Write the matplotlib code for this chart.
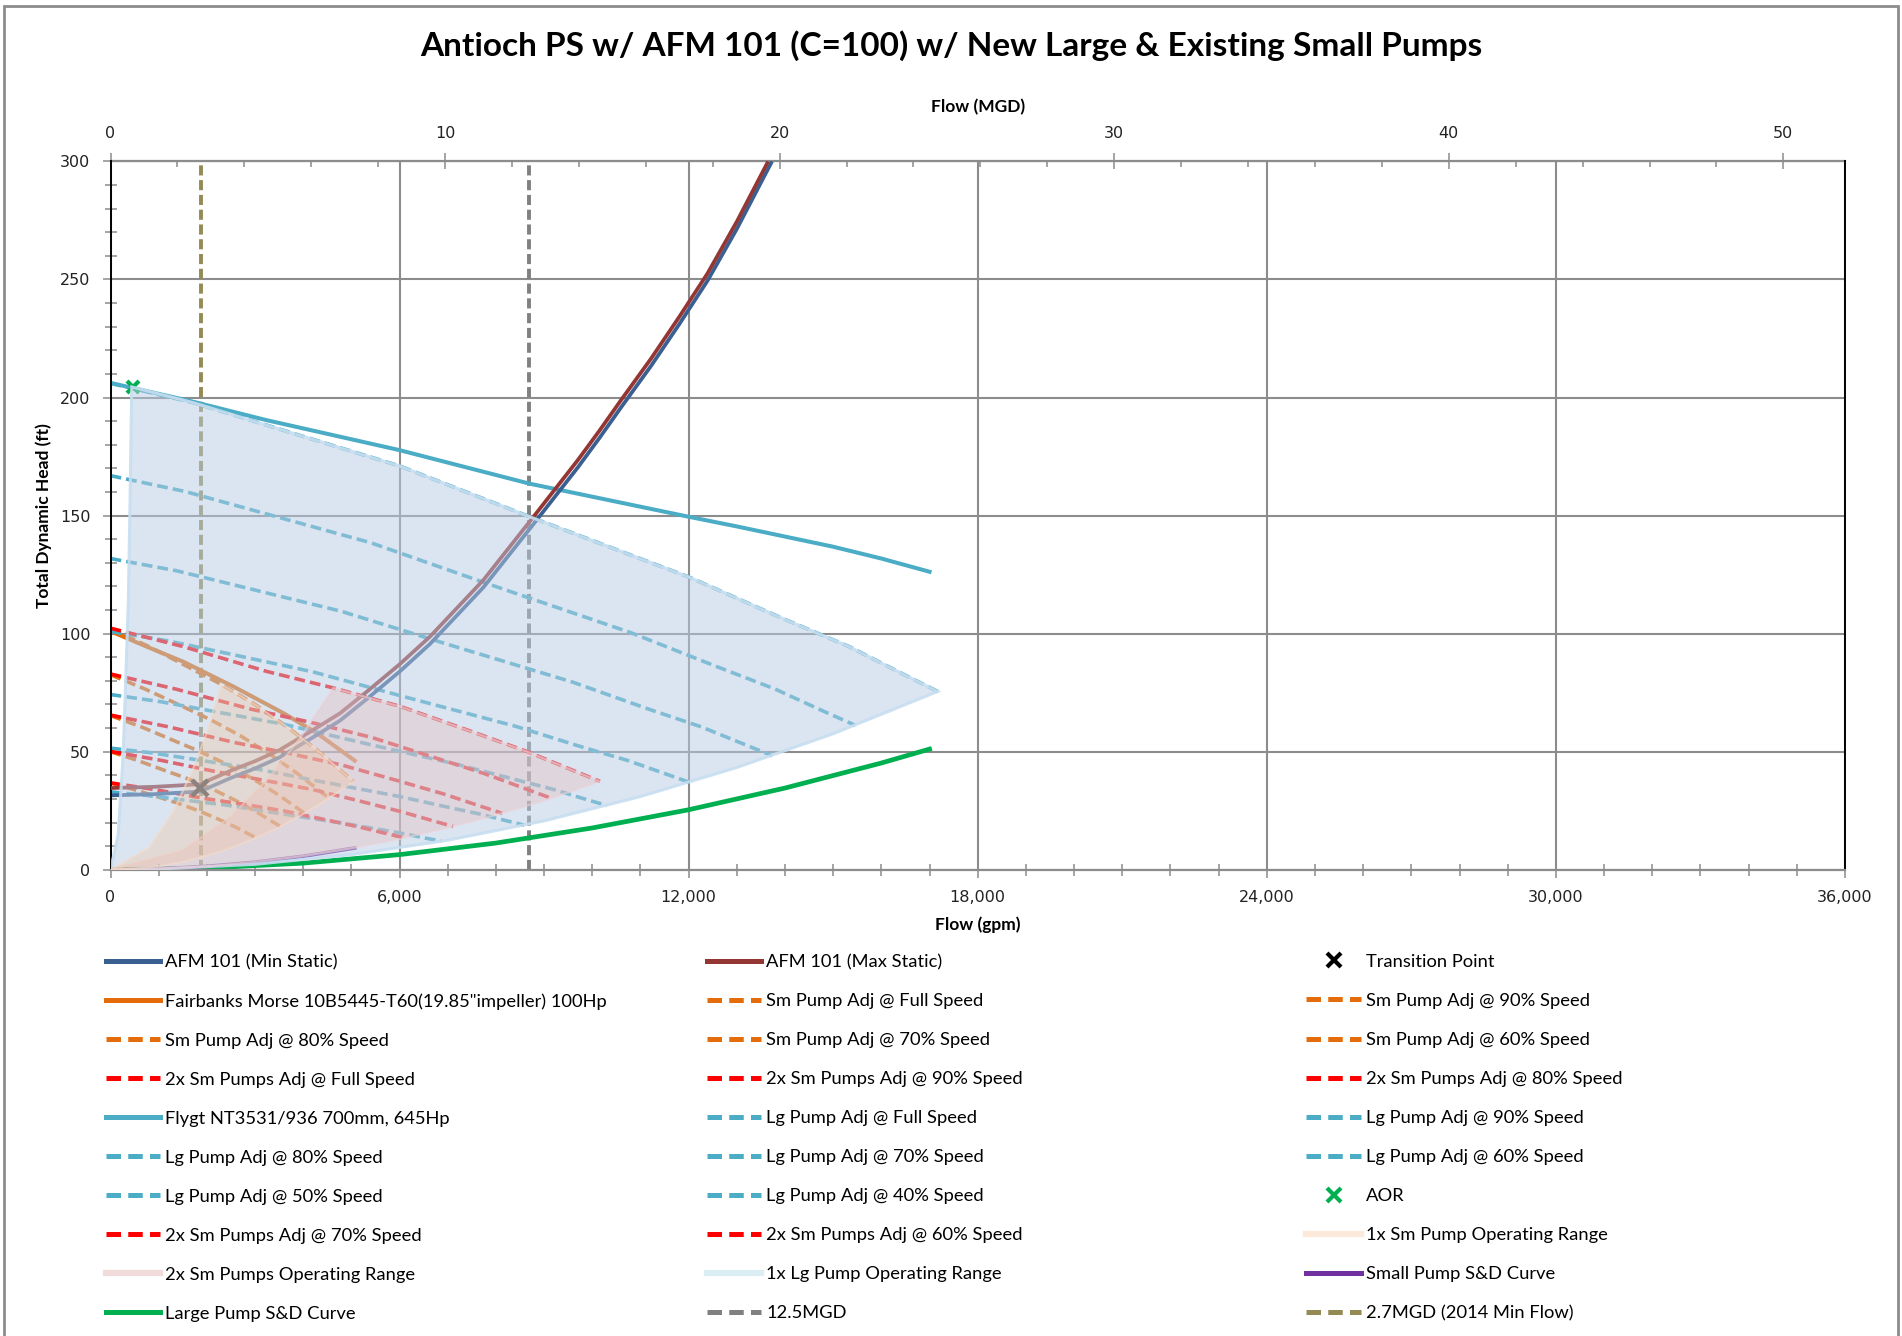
import matplotlib
matplotlib.use("Agg")
import matplotlib.pyplot as plt
from matplotlib.lines import Line2D
from matplotlib.patches import Rectangle
from matplotlib.ticker import MultipleLocator, FixedLocator, FuncFormatter

plt.rcParams['font.family'] = ['Lato', 'DejaVu Sans']

GPM_PER_MGD = 694.44

# ---------------- data (flow in gpm, head in ft) ----------------
# AFM 101 system curves
sys_max_q = [0, 900, 1850, 2500, 3000, 3500, 4140, 4760, 5320, 6000, 6630, 7740,
             8780, 9700, 10150, 10600, 11220, 11800, 12390, 13000, 13650]
sys_max_h = [34.6, 35.1, 36.2, 42.0, 46.0, 50.6, 58.4, 66.2, 75.4, 87.0, 98.7, 122.7,
             149.5, 173.5, 186.0, 199.0, 216.5, 234.0, 252.5, 274.5, 300.0]
sys_min_q = [0, 900, 1850, 2500, 3000, 3500, 4140, 4760, 5320, 6000, 6630, 7740,
             8780, 9700, 10150, 10600, 11220, 11800, 12390, 13000, 13650, 13730]
sys_min_h = [31.5, 32.0, 33.1, 38.9, 42.9, 47.5, 55.3, 63.1, 72.3, 83.9, 95.6, 119.6,
             146.4, 170.4, 182.9, 195.9, 213.4, 230.9, 249.4, 271.4, 296.9, 300.0]

transition_q = [1857]
transition_h = [34.7]
aor_q = [470]
aor_h = [204.5]

# Existing small pump (Fairbanks Morse)
fm_q = [0, 750, 1510, 2550, 3590, 4280, 5070]
fm_h = [101.0, 94.5, 88.1, 77.6, 66.3, 57.9, 46.2]

sm_full_q = [0, 800, 1600, 2300, 3000, 3700, 4300, 5040]
sm_full_h = [102.0, 94.5, 86.0, 78.5, 70.0, 60.0, 50.5, 37.4]
sm_90_q = [0, 720, 1440, 2070, 2700, 3330, 3870, 4536]
sm_90_h = [82.6, 76.5, 69.7, 63.6, 56.7, 48.6, 40.9, 30.3]
sm_80_q = [0, 640, 1280, 1840, 2400, 2960, 3440, 4032]
sm_80_h = [65.3, 60.5, 55.0, 50.2, 44.8, 38.4, 32.3, 23.9]
sm_70_q = [0, 560, 1120, 1610, 2100, 2590, 3010, 3528]
sm_70_h = [50.0, 46.3, 42.1, 38.5, 34.3, 29.4, 24.7, 18.3]
sm_60_q = [0, 480, 960, 1380, 1800, 2220, 2580, 3024]
sm_60_h = [36.7, 34.0, 31.0, 28.3, 25.2, 21.6, 18.2, 13.5]

# Two small pumps in parallel
sm2_full_q = [0, 1510, 3240, 4625, 6010, 7390, 8640, 10160]
sm2_full_h = [102.3, 94.5, 84.0, 77.0, 69.2, 59.3, 50.1, 37.4]
sm2_90_q = [0, 1359, 2916, 4163, 5409, 6651, 7776, 9144]
sm2_90_h = [82.9, 76.5, 68.0, 62.4, 56.1, 48.0, 40.6, 30.3]
sm2_80_q = [0, 1208, 2592, 3700, 4808, 5912, 6912, 8128]
sm2_80_h = [65.5, 60.5, 53.8, 49.3, 44.3, 38.0, 32.1, 23.9]
sm2_70_q = [0, 1057, 2268, 3238, 4207, 5173, 6048, 7112]
sm2_70_h = [50.1, 46.3, 41.2, 37.7, 33.9, 29.1, 24.5, 18.3]
sm2_60_q = [0, 906, 1944, 2775, 3606, 4434, 5184, 6096]
sm2_60_h = [36.8, 34.0, 30.2, 27.7, 24.9, 21.3, 18.0, 13.5]

# New large pump (Flygt)
flygt_q = [0, 1720, 3240, 6000, 8700, 12000, 13000, 14000, 15000, 16000, 17000]
flygt_h = [206.2, 198.2, 190.4, 177.7, 163.5, 149.5, 145.4, 141.1, 136.8, 131.8, 126.2]

lg_full_q = [0, 1720, 3240, 6000, 8700, 12000, 14000, 15330, 16340, 17170]
lg_full_h = [206.0, 197.8, 188.3, 171.0, 149.5, 124.0, 106.0, 94.5, 84.0, 75.5]
lg_90_q = [0, 1548, 2916, 5400, 7830, 10800, 12600, 13797, 14706, 15453]
lg_90_h = [166.9, 160.2, 152.5, 138.5, 121.1, 100.4, 85.9, 76.5, 68.0, 61.2]
lg_80_q = [0, 1376, 2592, 4800, 6960, 9600, 11200, 12264, 13072, 13736]
lg_80_h = [131.8, 126.6, 120.5, 109.4, 95.7, 79.4, 67.8, 60.5, 53.8, 48.3]
lg_70_q = [0, 1204, 2268, 4200, 6090, 8400, 9800, 10731, 11438, 12019]
lg_70_h = [100.9, 96.9, 92.3, 83.8, 73.3, 60.8, 51.9, 46.3, 41.2, 37.0]
lg_60_q = [0, 1032, 1944, 3600, 5220, 7200, 8400, 9198, 9804, 10302]
lg_60_h = [74.2, 71.2, 67.8, 61.6, 53.8, 44.6, 38.2, 34.0, 30.2, 27.2]
lg_50_q = [0, 860, 1620, 3000, 4350, 6000, 7000, 7665, 8170, 8585]
lg_50_h = [51.5, 49.5, 47.1, 42.8, 37.4, 31.0, 26.5, 23.6, 21.0, 18.9]
lg_40_q = [0, 688, 1296, 2400, 3480, 4800, 5600, 6132, 6536, 6868]
lg_40_h = [33.0, 31.6, 30.1, 27.4, 23.9, 19.8, 17.0, 15.1, 13.4, 12.1]

# Operating ranges (closed outlines)
sm1_range_q = [0, 800, 1300, 1700, 2000, 2300, 3000, 3700, 4300, 5040,
               4500, 4000, 3500, 3000, 2500, 2000, 1500, 1000, 500, 0]
sm1_range_h = [0, 9.3, 24.6, 42.1, 58.2, 78.5, 70.0, 60.0, 50.5, 37.4,
               29.8, 23.6, 18.0, 13.3, 9.2, 5.9, 3.3, 1.5, 0.4, 0]
sm2_range_q = [0, 1500, 2500, 3300, 3930, 4625, 6010, 7390, 8640, 10160,
               9000, 8000, 7000, 6000, 5000, 4000, 3000, 2000, 1000, 0]
sm2_range_h = [0, 8.1, 22.5, 39.2, 55.7, 77.0, 69.2, 59.3, 50.1, 37.4,
               29.3, 23.2, 17.8, 13.0, 9.1, 5.8, 3.3, 1.4, 0.4, 0]
lg_range_q = [0, 160, 266, 370, 405, 440, 1720, 3240, 6000, 8700, 12000, 14000,
              15330, 16340, 17170, 15000, 13000, 11000, 9000, 7000, 5000, 3000, 1000, 0]
lg_range_h = [0, 15.0, 50.0, 114.0, 156.0, 204.5, 197.8, 188.3, 171.0, 149.5, 124.0, 106.0,
              94.5, 84.0, 75.5, 57.6, 43.3, 31.0, 20.7, 12.5, 6.4, 2.3, 0.3, 0]

# Static & dynamic curves
sm_sd_q = [0, 1000, 2000, 3000, 4000, 5070]
sm_sd_h = [0, 0.36, 1.43, 3.2, 5.7, 9.2]
lg_sd_q = [0, 2000, 4000, 6000, 8000, 10000, 12000, 14000, 16000, 17000]
lg_sd_h = [0, 0.7, 2.8, 6.4, 11.3, 17.7, 25.4, 34.6, 45.2, 51.1]

# Reference flows (MGD)
design_flow_mgd = 12.5
min_flow_mgd = 2.7

# Axis ticks
gpm_ticks = [0, 6000, 12000, 18000, 24000, 30000, 36000]
mgd_ticks = [0, 10, 20, 30, 40, 50]
mgd_minor_ticks = [2, 4, 6, 8, 12, 14, 16, 18, 22, 24, 26, 28, 32, 34, 36, 38, 42, 44, 46, 48, 52]
head_ticks = [0, 50, 100, 150, 200, 250, 300]

# ---------------- styling ----------------
C_MIN = '#3A5F91'
C_MAX = '#943634'
C_ORANGE = '#E46C0A'
C_RED = '#FF0000'
C_TEAL = '#4BACC6'
C_GREEN = '#00B050'
C_PURPLE = '#7030A0'
C_GRAY = '#808080'
C_OLIVE = '#948A54'
C_GRID = '#8C8C8C'

LW_SOLID = 2.9
LW_DASH = 2.6
DASH = (3.0, 1.4)

fig = plt.figure(figsize=(19.02, 13.36), dpi=100)
ax = fig.add_axes([0.0581, 0.3490, 0.9119, 0.5302])
ax.set_xlim(0, 36000)
ax.set_ylim(0, 300)

# reference flow lines
ax.axvline(design_flow_mgd * GPM_PER_MGD, color=C_GRAY, lw=2.8, dashes=(2.6, 1.2), zorder=1.5)
ax.axvline(min_flow_mgd * GPM_PER_MGD, color=C_OLIVE, lw=2.8, dashes=(2.6, 1.2), zorder=1.5)

# static & dynamic curves
ax.plot(lg_sd_q, lg_sd_h, color=C_GREEN, lw=3.4, zorder=2)
ax.plot(sm_sd_q, sm_sd_h, color=C_PURPLE, lw=2.6, zorder=2)

# pump curves
dashed_sets = [
    (sm_full_q, sm_full_h, C_ORANGE), (sm_90_q, sm_90_h, C_ORANGE), (sm_80_q, sm_80_h, C_ORANGE),
    (sm_70_q, sm_70_h, C_ORANGE), (sm_60_q, sm_60_h, C_ORANGE),
    (lg_full_q, lg_full_h, C_TEAL), (lg_90_q, lg_90_h, C_TEAL), (lg_80_q, lg_80_h, C_TEAL),
    (lg_70_q, lg_70_h, C_TEAL), (lg_60_q, lg_60_h, C_TEAL), (lg_50_q, lg_50_h, C_TEAL),
    (lg_40_q, lg_40_h, C_TEAL),
    (sm2_full_q, sm2_full_h, C_RED), (sm2_90_q, sm2_90_h, C_RED), (sm2_80_q, sm2_80_h, C_RED),
    (sm2_70_q, sm2_70_h, C_RED), (sm2_60_q, sm2_60_h, C_RED),
]
ax.plot(fm_q, fm_h, color=C_ORANGE, lw=LW_SOLID, zorder=2)
ax.plot(flygt_q, flygt_h, color=C_TEAL, lw=LW_SOLID, zorder=2.2)
for q, h, c in dashed_sets:
    ax.plot(q, h, color=c, lw=LW_DASH, dashes=DASH, zorder=2.1)

# system curves
ax.plot(sys_min_q, sys_min_h, color=C_MIN, lw=2.7, zorder=2.5, solid_capstyle='butt')
ax.plot(sys_max_q, sys_max_h, color=C_MAX, lw=2.7, zorder=2.6, solid_capstyle='butt')

# markers
ax.plot(transition_q, transition_h, ls='none', marker='x', ms=11, mew=3.2, color='black', zorder=2.8)
ax.plot(aor_q, aor_h, ls='none', marker='x', ms=9, mew=3.0, color=C_GREEN, zorder=2.8)

# operating range areas (translucent, above the curves)
ax.fill(lg_range_q, lg_range_h, facecolor=(0.722, 0.800, 0.894, 0.50),
        edgecolor=(0.78, 0.87, 0.94, 0.9), lw=2.2, zorder=4)
ax.fill(sm2_range_q, sm2_range_h, facecolor=(0.902, 0.725, 0.722, 0.35),
        edgecolor=(0.93, 0.82, 0.84, 0.6), lw=1.5, zorder=4.1)
ax.fill(sm1_range_q, sm1_range_h, facecolor=(0.96, 0.76, 0.60, 0.32),
        edgecolor=(0.96, 0.86, 0.80, 0.6), lw=1.5, zorder=4.2)

# ---------------- axes ----------------
ax.xaxis.set_major_locator(FixedLocator(gpm_ticks))
ax.xaxis.set_minor_locator(MultipleLocator(1000))
ax.yaxis.set_major_locator(FixedLocator(head_ticks))
ax.yaxis.set_minor_locator(MultipleLocator(10))
ax.xaxis.set_major_formatter(FuncFormatter(lambda v, p: f"{v:,.0f}"))
ax.grid(True, which='major', color=C_GRID, lw=1.5, zorder=0.5)
ax.set_axisbelow(True)

ax.tick_params(axis='both', which='major', direction='inout', length=11, width=1.1,
               color=C_GRID, labelsize=11.5, labelcolor='#222222')
ax.tick_params(axis='both', which='minor', direction='inout', length=9, width=1.1, color=C_GRID)
ax.tick_params(axis='x', which='major', pad=9)
ax.tick_params(axis='y', which='major', pad=9)
ax.tick_params(axis='x', top=False)
for s in ('left', 'right'):
    ax.spines[s].set_color('black')
    ax.spines[s].set_linewidth(1.4)
ax.spines['bottom'].set_color(C_GRID)
ax.spines['bottom'].set_linewidth(1.6)
ax.spines['top'].set_visible(False)

secax = ax.secondary_xaxis('top', functions=(lambda q: q / GPM_PER_MGD, lambda m: m * GPM_PER_MGD))
secax.xaxis.set_major_locator(FixedLocator(mgd_ticks))
secax.xaxis.set_minor_locator(FixedLocator(mgd_minor_ticks))
secax.tick_params(which='major', direction='inout', length=11, width=1.1, color=C_GRID,
                  labelsize=11.5, labelcolor='#222222', pad=9)
secax.tick_params(which='minor', direction='in', length=4.5, width=1.1, color=C_GRID)
secax.spines['top'].set_color(C_GRID)
secax.spines['top'].set_linewidth(1.6)
for lab in secax.get_xticklabels() + ax.get_xticklabels() + ax.get_yticklabels():
    lab.set_fontfamily('DejaVu Sans')

lab_font = dict(fontsize=12.5, fontweight='bold', color='black')
ax.set_xlabel('Flow (gpm)', labelpad=8, **lab_font)
ax.set_ylabel('Total Dynamic Head (ft)', labelpad=6, **lab_font)
secax.set_xlabel('Flow (MGD)', labelpad=10, **lab_font)

fig.text(0.5, 0.966, 'Antioch PS w/ AFM 101 (C=100) w/ New Large & Existing Small Pumps',
         ha='center', va='center', fontsize=24, fontweight='bold')

# chart border
fig.patches.append(Rectangle((0.0022, -0.01), 0.9955, 1.0055, transform=fig.transFigure,
                             fill=False, edgecolor='#8C8C8C', lw=2.0))

# ---------------- legend ----------------
def solid_h(c, lw=3.6):
    return Line2D([], [], color=c, lw=lw)

def dash_h(c):
    return Line2D([], [], color=c, lw=3.6, dashes=(2.9, 1.45))

def mark_h(c):
    return Line2D([], [], ls='none', marker='x', ms=10, mew=3.0, color=c)

col1 = [
    (solid_h(C_MIN), 'AFM 101 (Min Static)'),
    (solid_h(C_ORANGE), 'Fairbanks Morse 10B5445-T60(19.85"impeller) 100Hp'),
    (dash_h(C_ORANGE), 'Sm Pump Adj @ 80% Speed'),
    (dash_h(C_RED), '2x Sm Pumps Adj @ Full Speed'),
    (solid_h(C_TEAL), 'Flygt NT3531/936 700mm, 645Hp'),
    (dash_h(C_TEAL), 'Lg Pump Adj @ 80% Speed'),
    (dash_h(C_TEAL), 'Lg Pump Adj @ 50% Speed'),
    (dash_h(C_RED), '2x Sm Pumps Adj @ 70% Speed'),
    (solid_h('#F2DCDB', 4.5), '2x Sm Pumps Operating Range'),
    (solid_h(C_GREEN), 'Large Pump S&D Curve'),
]
col2 = [
    (solid_h(C_MAX), 'AFM 101 (Max Static)'),
    (dash_h(C_ORANGE), 'Sm Pump Adj @ Full Speed'),
    (dash_h(C_ORANGE), 'Sm Pump Adj @ 70% Speed'),
    (dash_h(C_RED), '2x Sm Pumps Adj @ 90% Speed'),
    (dash_h(C_TEAL), 'Lg Pump Adj @ Full Speed'),
    (dash_h(C_TEAL), 'Lg Pump Adj @ 70% Speed'),
    (dash_h(C_TEAL), 'Lg Pump Adj @ 40% Speed'),
    (dash_h(C_RED), '2x Sm Pumps Adj @ 60% Speed'),
    (solid_h('#DAEEF3', 4.5), '1x Lg Pump Operating Range'),
    (dash_h(C_GRAY), '12.5MGD'),
]
col3 = [
    (mark_h('black'), 'Transition Point'),
    (dash_h(C_ORANGE), 'Sm Pump Adj @ 90% Speed'),
    (dash_h(C_ORANGE), 'Sm Pump Adj @ 60% Speed'),
    (dash_h(C_RED), '2x Sm Pumps Adj @ 80% Speed'),
    (dash_h(C_TEAL), 'Lg Pump Adj @ 90% Speed'),
    (dash_h(C_TEAL), 'Lg Pump Adj @ 60% Speed'),
    (mark_h(C_GREEN), 'AOR'),
    (solid_h('#FDE9D9', 4.5), '1x Sm Pump Operating Range'),
    (solid_h(C_PURPLE), 'Small Pump S&D Curve'),
    (dash_h(C_OLIVE), '2.7MGD (2014 Min Flow)'),
]
for xa, col in ((0.0557, col1), (0.3717, col2), (0.6869, col3)):
    hs, ls = zip(*col)
    fig.legend(hs, ls, loc='upper left', bbox_to_anchor=(xa, 0.2860), frameon=False,
               borderpad=0, borderaxespad=0, fontsize=13.2, handlelength=2.95,
               handletextpad=0.28, labelspacing=1.255)

fig.savefig('out.png', dpi=100)
